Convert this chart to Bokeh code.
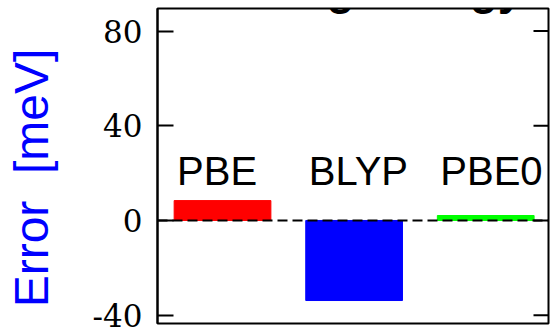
import math
from bokeh.plotting import figure
from bokeh.models import Range1d, FixedTicker, Span, Label, ColumnDataSource
from bokeh.core.properties import value
from bokeh.embed import file_html
from bokeh.resources import INLINE

# ---- data ----
methods = ["PBE", "BLYP", "PBE0"]
errors = [8.4, -33.8, 2.1]          # meV
colors = ["#ff0000", "#0000ff", "#00ff00"]
y_ticks = [-40, 0, 40, 80]
y_tick_labels = ["-40", "0", "40", "80"]
title_text = "Binding Energy"
y_label = "Error\u00a0\u00a0[meV]\u2002"

X0, X1 = 0.506, 3.477
Y0, Y1 = -43.5, 89.5
xpos = [i + 1 for i in range(len(methods))]

p = figure(width=550, height=329, output_backend="svg", toolbar_location=None,
           x_range=Range1d(X0, X1), y_range=Range1d(Y0, Y1),
           x_axis_location=None, y_axis_location="left",
           min_border_left=157, min_border_right=2, min_border_top=8, min_border_bottom=6)
p.grid.visible = False
p.outline_line_color = "black"
p.outline_line_width = 2
p.background_fill_color = "white"
p.border_fill_color = "white"

src = ColumnDataSource(dict(x=xpos, top=errors, color=colors, name=methods,
                            lx=[x - 0.345 for x in xpos], ly=[20.7] * len(methods)))
p.vbar(x="x", top="top", bottom=0, width=0.735, fill_color="color", line_color="color",
       source=src)

p.add_layout(Span(location=0, dimension="width", line_color="black", line_width=2,
                  line_dash="10 5"))

p.text(x="lx", y="ly", text="name", source=src, text_align="left", text_baseline="alphabetic",
       text_font=value("Liberation Sans"), text_font_size="40px", text_color="black")

# inward ticks on the right frame edge
n = len(y_ticks)
p.segment(x0=[X1] * n, x1=[X1 - 0.114] * n, y0=y_ticks, y1=y_ticks,
          line_color="black", line_width=2)

ax = p.yaxis[0]
ax.ticker = FixedTicker(ticks=y_ticks)
ax.major_label_overrides = {t: s for t, s in zip(y_ticks, y_tick_labels)}
ax.minor_tick_line_color = None
ax.major_tick_in = 16
ax.major_tick_out = 0
ax.major_tick_line_width = 2
ax.axis_line_width = 2
ax.major_label_standoff = 15
ax.major_label_text_font = "DejaVu Serif"
ax.major_label_text_font_size = "31px"
ax.major_label_text_color = "black"
ax.axis_label = y_label
ax.axis_label_text_font = "Liberation Sans"
ax.axis_label_text_font_style = "normal"
ax.axis_label_text_font_size = "48px"
ax.axis_label_text_color = "#0000ff"
ax.axis_label_standoff = 32

p.add_layout(Label(x=26, y=336, x_units="screen", y_units="screen", text=title_text,
                   text_align="left", text_baseline="alphabetic",
                   text_font="Liberation Sans", text_font_style="bold",
                   text_font_size="46px", text_color="black"))

open("out.html", "w").write(file_html(p, INLINE))
